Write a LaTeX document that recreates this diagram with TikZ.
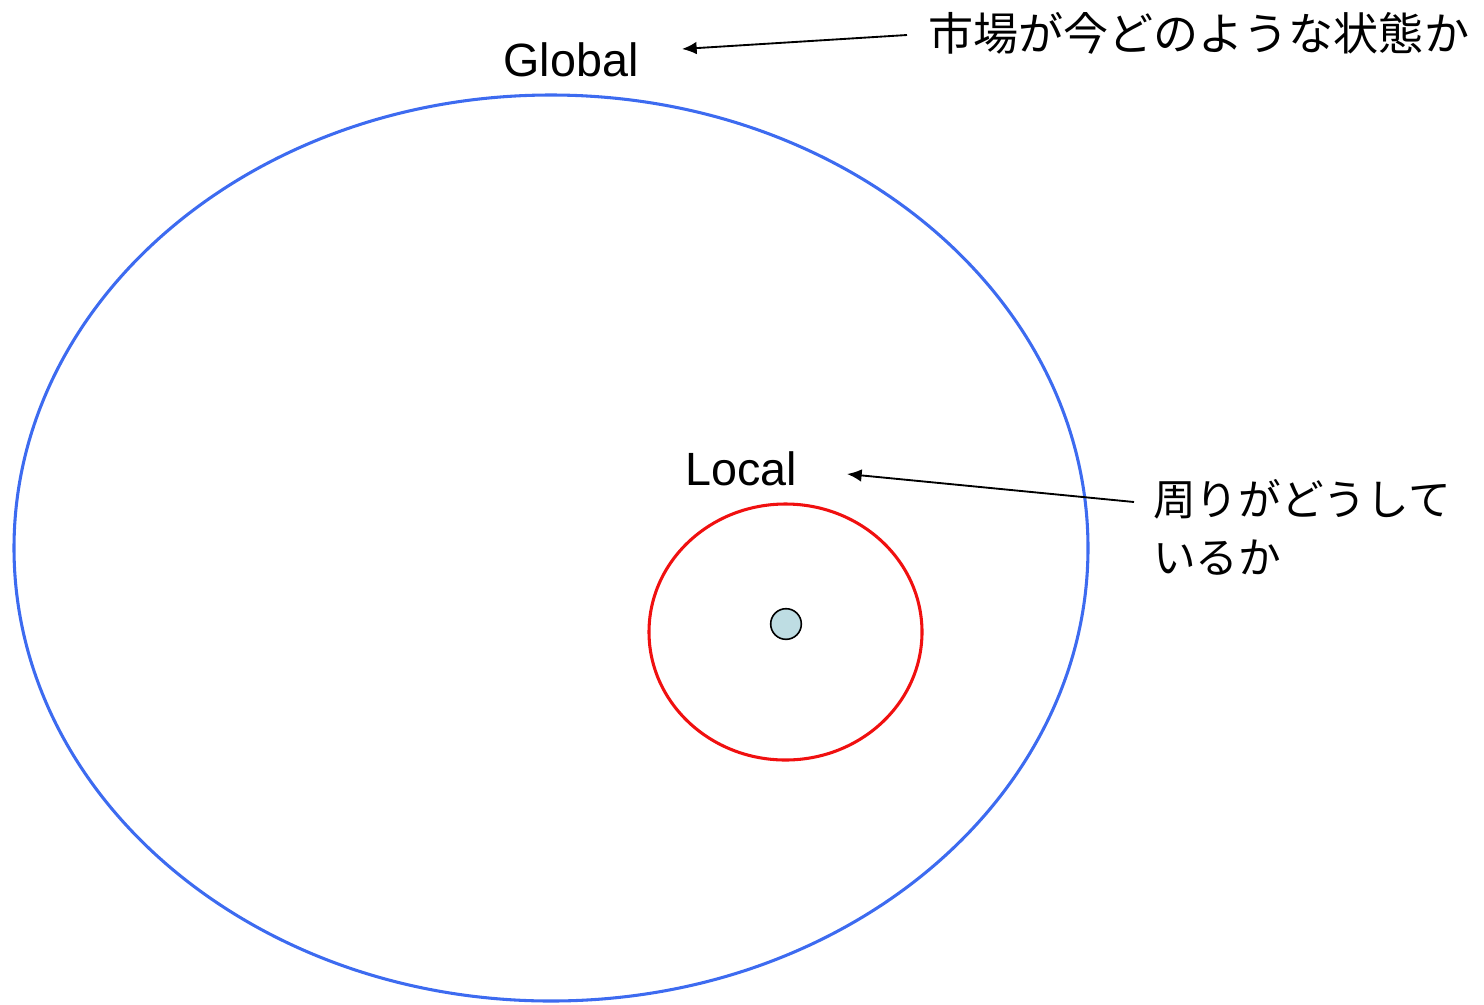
\documentclass[tikz,border=0pt]{standalone}
\usepackage{fontspec}
\usetikzlibrary{arrows.meta}
\setmainfont{Liberation Sans}
\newfontfamily\cjk{Noto Sans CJK JP}
\definecolor{outerblue}{HTML}{3D6BF0}
\definecolor{innerred}{HTML}{F01010}
\definecolor{dotfill}{HTML}{BEDDE3}
\tikzset{
  lbl/.style={font=\fontsize{35}{40}\selectfont, inner sep=0pt},
  jlbl/.style={font=\cjk\fontsize{33.8}{43}\selectfont, inner sep=0pt, align=left},
  jlblb/.style={font=\cjk\fontsize{32}{43.5}\selectfont, inner sep=0pt, align=left},
  pointer/.style={-{Latex[length=11pt,width=9.5pt]}, line width=1.4pt}
}
\begin{document}
\begin{tikzpicture}[x=0.75pt,y=-0.75pt]
\useasboundingbox (0,0) rectangle (1484,1004);
\draw[outerblue, line width=2.3pt] (551,548) ellipse [x radius=537, y radius=453];
\draw[innerred, line width=2.3pt] (785.5,632) ellipse [x radius=136.5, y radius=128];
\node[circle, draw=black, fill=dotfill, line width=1.2pt, minimum size=23pt, inner sep=0pt] (dot) at (786,624) {};
\node[lbl] (global) at (571,60) {Global};
\node[lbl] (local) at (741,469) {Local};
\node[jlbl, anchor=west] (jp1) at (928,33) {市場が今どのような状態か};
\node[jlblb, anchor=north west] (jp2) at (1153,479) {周りがどうして\\いるか};
\coordinate (a1s) at (907,35);
\coordinate (a1e) at (682,49);
\coordinate (a2s) at (1134,502);
\coordinate (a2e) at (847,474);
\draw[pointer] (a1s) -- (a1e);
\draw[pointer] (a2s) -- (a2e);
\end{tikzpicture}
\end{document}
